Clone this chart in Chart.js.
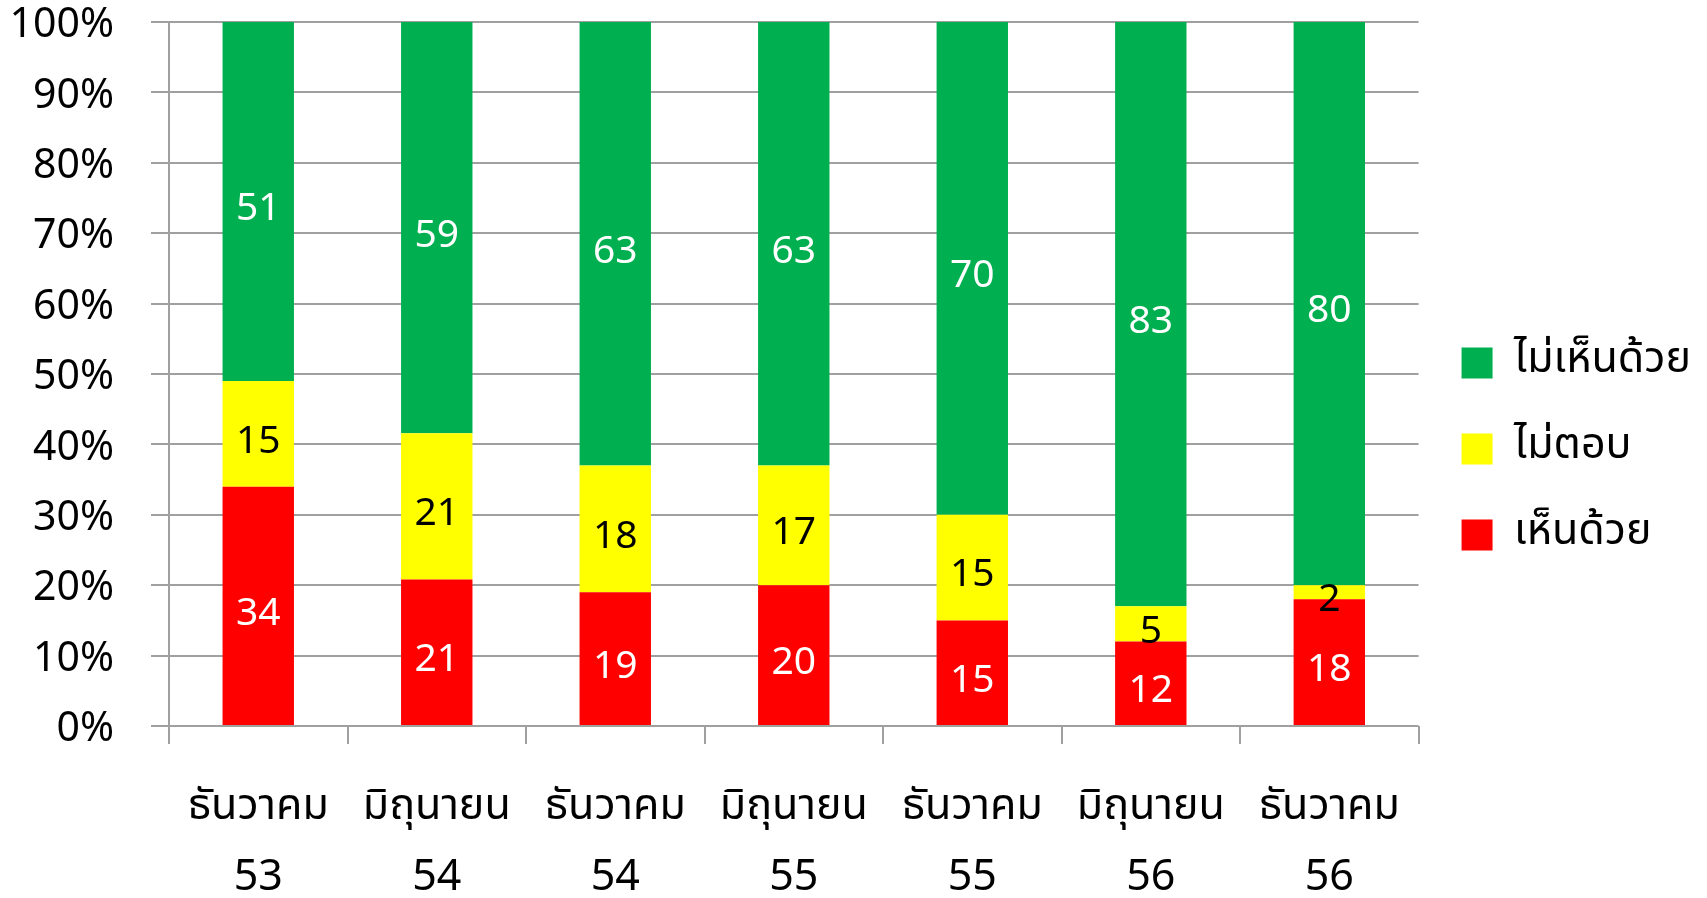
<!DOCTYPE html>
<html>
<head>
<meta charset="utf-8">
<script src="https://cdn.jsdelivr.net/npm/chart.js@4/dist/chart.umd.min.js"></script>
<style>
  html, body { margin: 0; padding: 0; background: #fff; }
  #wrap { width: 1707px; height: 898px; }
</style>
</head>
<body>
<div id="wrap"><canvas id="chart"></canvas></div>
<script>
// data
const categories = [
  ["ธันวาคม", "53"],
  ["มิถุนายน", "54"],
  ["ธันวาคม", "54"],
  ["มิถุนายน", "55"],
  ["ธันวาคม", "55"],
  ["มิถุนายน", "56"],
  ["ธันวาคม", "56"],
];
const agree = [34, 21, 19, 20, 15, 12, 18];
const noAnswer = [15, 21, 18, 17, 15, 5, 2];
const disagree = [51, 59, 63, 63, 70, 83, 80];
const seriesNames = ["เห็นด้วย", "ไม่ตอบ", "ไม่เห็นด้วย"];

const FONT = "'Noto Sans Thai', 'Noto Sans', 'DejaVu Sans', sans-serif";

// 100% stacked: share of each column total
const totals = agree.map((v, i) => v + noAnswer[i] + disagree[i]);
const pct = (arr) => arr.map((v, i) => (v / totals[i]) * 100);

const valueLabels = {
  id: "valueLabels",
  afterDatasetsDraw(chart) {
    const ctx = chart.ctx;
    ctx.save();
    ctx.font = "39px " + FONT;
    ctx.textAlign = "center";
    ctx.textBaseline = "middle";
    chart.data.datasets.forEach((ds, di) => {
      const meta = chart.getDatasetMeta(di);
      meta.data.forEach((bar, i) => {
        const y = (bar.y + bar.base) / 2 + 11;
        ctx.fillStyle = ds.labelColor;
        ctx.fillText(String(ds.raw[i]), bar.x, y);
      });
    });
    ctx.restore();
  },
};

new Chart(document.getElementById("chart"), {
  type: "bar",
  data: {
    labels: categories,
    datasets: [
      { label: seriesNames[0], data: pct(agree), raw: agree, backgroundColor: "#ff0000", labelColor: "#ffffff" },
      { label: seriesNames[1], data: pct(noAnswer), raw: noAnswer, backgroundColor: "#ffff00", labelColor: "#000000" },
      { label: seriesNames[2], data: pct(disagree), raw: disagree, backgroundColor: "#00b050", labelColor: "#ffffff" },
    ],
  },
  options: {
    responsive: true,
    maintainAspectRatio: false,
    animation: false,
    datasets: { bar: { barPercentage: 0.4, categoryPercentage: 1 } },
    layout: { padding: { top: 0, right: 6, left: 0, bottom: 0 } },
    scales: {
      x: {
        stacked: true,
        grid: {
          offset: true,
          drawOnChartArea: false,
          color: "#a0a0a0",
          lineWidth: 2,
          tickLength: 18,
        },
        border: { display: false },
        ticks: {
          color: "#000",
          font: { family: FONT, size: 43, lineHeight: 1.67 },
          padding: 30,
          maxRotation: 0,
        },
        afterFit(scale) { scale.height = 172; },
      },
      y: {
        stacked: true,
        min: 0,
        max: 100,
        grid: { color: "#a0a0a0", lineWidth: 2, tickLength: 18 },
        border: { color: "#a0a0a0", width: 2 },
        ticks: {
          stepSize: 10,
          color: "#000",
          font: { family: FONT, size: 41 },
          padding: 37,
          labelOffset: 7,
          callback: (v) => v + "%",
        },
        afterFit(scale) {
          scale.width = 169;
          scale.paddingTop = 22;
          scale.paddingBottom = 0;
        },
      },
    },
    plugins: {
      legend: {
        position: "right",
        reverse: true,
        labels: {
          color: "#000",
          boxWidth: 31,
          boxHeight: 31,
          padding: 43,
          font: { family: FONT, size: 43 },
        },
      },
      tooltip: { enabled: false },
    },
  },
  plugins: [valueLabels],
});
</script>
</body>
</html>
